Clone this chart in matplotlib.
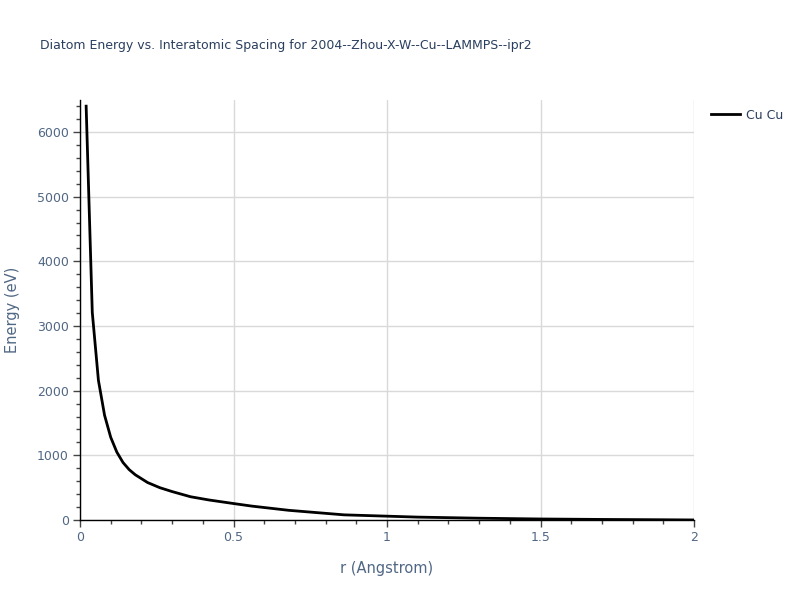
#diatom energy curve, plotly-like look
import matplotlib.pyplot as plt
from matplotlib.ticker import MultipleLocator

# values
r_values = [0.02, 0.04, 0.06, 0.08, 0.10, 0.12, 0.14, 0.16, 0.18, 0.22, 0.26,
            0.30, 0.36, 0.42, 0.50, 0.56, 0.68, 0.86, 1.10, 1.30, 1.50, 1.70,
            1.90, 2.00]
energy_values = [6400, 3210, 2160, 1620, 1280, 1050, 890, 780, 700, 580, 500,
                 440, 360, 310, 255, 215, 150, 80, 45, 28, 16, 9, 4, 1]
series_name = "Cu Cu"

title = "Diatom Energy vs. Interatomic Spacing for 2004--Zhou-X-W--Cu--LAMMPS--ipr2"
x_label = "r (Angstrom)"
y_label = "Energy (eV)"

text_color = '#2a3f5f'
tick_color = '#506784'
grid_color = '#d9d9d9'

plt.rcParams['font.family'] = ['DejaVu Sans']

fig = plt.figure(figsize=(8, 6), dpi=100)
ax = fig.add_axes([0.1, 0.1333, 0.7675, 0.7])

ax.plot(r_values, energy_values, color='black', linewidth=2, label=series_name)

ax.set_xlim(0, 2)
ax.set_ylim(0, 6495)
ax.xaxis.set_major_locator(MultipleLocator(0.5))
ax.xaxis.set_minor_locator(MultipleLocator(0.1))
ax.yaxis.set_major_locator(MultipleLocator(1000))
ax.yaxis.set_minor_locator(MultipleLocator(200))
ax.xaxis.set_major_formatter(plt.FuncFormatter(lambda v, p: '%g' % v))

ax.grid(True, which='major', color=grid_color, linewidth=1)
ax.set_axisbelow(True)
for side in ['top', 'right']:
    ax.spines[side].set_visible(False)
for side in ['left', 'bottom']:
    ax.spines[side].set_color('black')
    ax.spines[side].set_linewidth(1)

ax.tick_params(which='major', direction='out', length=5, width=1, color='#444444',
               labelcolor=tick_color, labelsize=9, pad=3)
ax.tick_params(which='minor', direction='out', length=3, width=1, color='#444444')

ax.set_xlabel(x_label, color=tick_color, fontsize=10.5, labelpad=12)
ax.set_ylabel(y_label, color=tick_color, fontsize=10.5, labelpad=12)

fig.text(0.05, 0.925, title, color=text_color, fontsize=9, ha='left', va='center')

ax.legend(loc='upper left', bbox_to_anchor=(1.01, 1.006), frameon=False,
          fontsize=9, labelcolor=text_color, handlelength=2.3, handletextpad=0.5)

plt.savefig('out.png')
